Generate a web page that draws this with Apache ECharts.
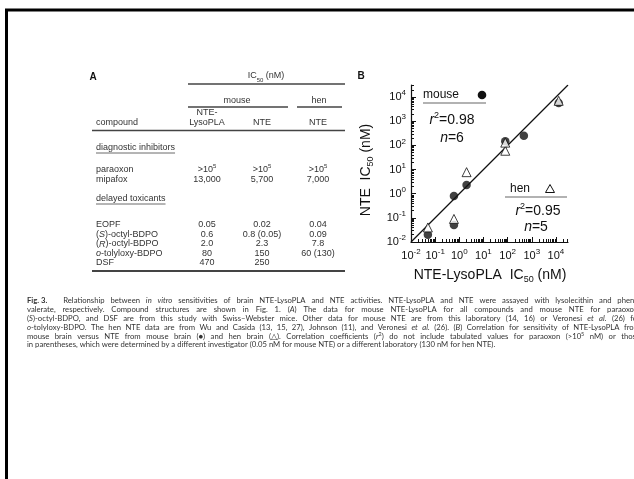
<!DOCTYPE html>
<html><head><meta charset="utf-8">
<script src="https://cdn.jsdelivr.net/npm/echarts@6/dist/echarts.min.js"></script>
<style>html,body{margin:0;padding:0;background:#fff}#c{width:634px;height:479px}</style>
</head><body><div id="c"></div>
<script>
// ---------- Panel A table ----------
const diagCompounds = ['paraoxon', 'mipafox'];
const diagLyso = ['>10^5', '13,000'];
const diagMouseNTE = ['>10^5', '5,700'];
const diagHenNTE = ['>10^5', '7,000'];
const toxCompounds = ['EOPF', '(S)-octyl-BDPO', '(R)-octyl-BDPO', 'o-tolyloxy-BDPO', 'DSF'];
const toxLyso = ['0.05', '0.6', '2.0', '80', '470'];
const toxMouseNTE = ['0.02', '0.8 (0.05)', '2.3', '150', '250'];
const toxHenNTE = ['0.04', '0.09', '7.8', '60 (130)', ''];

// ---------- Panel B scatter (nM) ----------
const mouseLyso = [0.05, 0.6, 0.6, 2.0, 80, 470, 13000];
const mouseNTE  = [0.02, 0.8, 0.05, 2.3, 150, 250, 5700];
const henLyso = [0.05, 0.6, 2.0, 80, 80, 13000];
const henNTE  = [0.04, 0.09, 7.8, 60, 130, 7000];
const fitX = [0.01, 31623];
const fitY = [0.01, 31623];
const tickExponents = [-2, -1, 0, 1, 2, 3, 4];

// ---------- Caption ----------
const captionLines = [
  '{b|Fig. 3.} Relationship between {i|in} {i|vitro} sensitivities of brain NTE-LysoPLA and NTE activities. NTE-LysoPLA and NTE were assayed with lysolecithin and phenyl',
  'valerate, respectively. Compound structures are shown in Fig. 1. ({i|A}) The data for mouse NTE-LysoPLA for all compounds and mouse NTE for paraoxon,',
  '({i|S})-octyl-BDPO, and DSF are from this study with Swiss\u2013Webster mice. Other data for mouse NTE are from this laboratory (14, 16) or Veronesi {i|et} {i|al.} (26) for',
  '{i|o}-tolyloxy-BDPO. The hen NTE data are from Wu and Casida (13, 15, 27), Johnson (11), and Veronesi {i|et} {i|al.} (26). ({i|B}) Correlation for sensitivity of NTE-LysoPLA from',
  'mouse brain versus NTE from mouse brain (\u25CF) and hen brain (\u25B3). Correlation coefficients ({i|r}{sp|2}) do not include tabulated values for paraoxon (>10{sp|5} nM) or those',
  'in parentheses, which were determined by a different investigator (0.05 nM for mouse NTE) or a different laboratory (130 nM for hen NTE).'
];

const L = v => Math.log10(v);
const minorTicks = [];
tickExponents.forEach(d => { for (let k = 2; k <= 9; k++) { const v = d + Math.log10(k); if (v < 4.5) minorTicks.push(v); } });

const SANS = 'Liberation Sans, Arial, sans-serif';
const INK = '#111';
const ctx = document.createElement('canvas').getContext('2d');
function tw(t, font) { ctx.font = font; return ctx.measureText(t).width; }

const g = [];
// page border
g.push({type: 'polyline', shape: {points: [[6.5, 479], [6.5, 10], [634, 10]]}, style: {stroke: '#000', lineWidth: 3, fill: null}});

// table
const TF = 9;
const tRich = {
  sp: {fontSize: 6, fontFamily: SANS, fill: '#333', lineHeight: 8, verticalAlign: 'top'},
  it: {fontSize: TF, fontFamily: SANS, fontStyle: 'italic', fill: '#333', lineHeight: 14},
  sub: {fontSize: 6, fontFamily: SANS, fill: '#333', lineHeight: 6, verticalAlign: 'bottom'}
};
function ttext(t, x, y, align) {
  g.push({type: 'text', x: x, y: y, style: {text: t, fontSize: TF, fontFamily: SANS, fill: '#333', lineHeight: 14, align: align || 'left', verticalAlign: 'middle', rich: tRich}});
}
function hline(x1, x2, y, w, c) { g.push({type: 'line', shape: {x1: x1, y1: y, x2: x2, y2: y}, style: {stroke: c || '#444', lineWidth: w}}); }
const fmtVal = s => s.replace(/\^(\d+)/g, '{sp|$1}');
const fmtName = s => s.replace(/^\(([SR])\)/, '({it|$1})').replace(/^o-/, '{it|o}-');
const colX = [207, 262, 318];
const nameX = 96;

g.push({type: 'text', x: 93, y: 77, style: {text: 'A', fontSize: 10, fontWeight: 'bold', fontFamily: SANS, fill: INK, align: 'center', verticalAlign: 'middle'}});
ttext('IC{sub|50} (nM)', 266, 76, 'center');
hline(188, 345, 84, 1.5);
ttext('mouse', 237, 101, 'center');
hline(188, 288, 107, 1.5);
ttext('hen', 319, 101, 'center');
hline(297, 342, 107, 1.5);
ttext('NTE-', colX[0], 113, 'center');
ttext('LysoPLA', colX[0], 123, 'center');
ttext('NTE', colX[1], 123, 'center');
ttext('NTE', colX[2], 123, 'center');
ttext('compound', nameX, 123, 'left');
hline(92, 345, 130.5, 1.5);

const fnt = TF + 'px ' + SANS;
ttext('diagnostic inhibitors', nameX, 148, 'left');
hline(nameX, nameX + tw('diagnostic inhibitors', fnt), 153, 0.8);
diagCompounds.forEach((c, i) => {
  const y = 170 + i * 10;
  ttext(fmtName(c), nameX, y, 'left');
  ttext(fmtVal(diagLyso[i]), colX[0], y, 'center');
  ttext(fmtVal(diagMouseNTE[i]), colX[1], y, 'center');
  ttext(fmtVal(diagHenNTE[i]), colX[2], y, 'center');
});
ttext('delayed toxicants', nameX, 199, 'left');
hline(nameX, nameX + tw('delayed toxicants', fnt), 204, 0.8);
toxCompounds.forEach((c, i) => {
  const y = 225 + i * 9.5;
  ttext(fmtName(c), nameX, y, 'left');
  ttext(fmtVal(toxLyso[i]), colX[0], y, 'center');
  ttext(fmtVal(toxMouseNTE[i]), colX[1], y, 'center');
  if (toxHenNTE[i]) ttext(fmtVal(toxHenNTE[i]), colX[2], y, 'center');
});
hline(92, 345, 271, 2);

// panel B annotations
g.push({type: 'text', x: 361, y: 76, style: {text: 'B', fontSize: 10, fontWeight: 'bold', fontFamily: SANS, fill: INK, align: 'center', verticalAlign: 'middle'}});
const bigRich = {
  i: {fontSize: 14, fontFamily: SANS, fontStyle: 'italic', fill: INK, lineHeight: 18},
  t: {fontSize: 14, fontFamily: SANS, fill: INK, lineHeight: 18},
  sp: {fontSize: 9, fontFamily: SANS, fill: INK, lineHeight: 9, verticalAlign: 'top'},
  sub: {fontSize: 9, fontFamily: SANS, fill: INK, lineHeight: 9, verticalAlign: 'bottom'}
};
function btext(t, x, y, align, size, rot) {
  g.push({type: 'text', x: x, y: y, rotation: rot || 0, style: {text: t, fontSize: size || 14, fontFamily: SANS, fill: INK, lineHeight: 18, align: align, verticalAlign: 'middle', rich: bigRich}});
}
btext('mouse', 423, 95, 'left', 12);
g.push({type: 'circle', shape: {cx: 482, cy: 95, r: 4.3}, style: {fill: INK}});
hline(423, 486, 103, 1.2, '#666');
btext('{i|r}{sp|2}{t|=0.98}', 452, 120, 'center');
btext('{i|n}{t|=6}', 452, 138, 'center');
btext('hen', 510, 189, 'left', 12);
g.push({type: 'polygon', shape: {points: [[550, 184.5], [554.5, 192.5], [545.5, 192.5]]}, style: {fill: '#fff', stroke: INK, lineWidth: 1}});
hline(505, 567, 197, 1.2, '#666');
btext('{i|r}{sp|2}{t|=0.95}', 538, 211, 'center');
btext('{i|n}{t|=5}', 536, 227, 'center');
btext('{t|NTE-LysoPLA  IC}{sub|50}{t| (nM)}', 490, 275, 'center');
btext('{t|NTE  IC}{sub|50}{t| (nM)}', 366, 170, 'center', 14, Math.PI / 2);

// caption (justified lines)
const CF = 7.7, CFAM = 'Lato, sans-serif', CCOL = '#333';
const cRich = {
  i: {fontSize: CF, fontFamily: CFAM, fontStyle: 'italic', fill: CCOL, lineHeight: 10},
  b: {fontSize: CF, fontFamily: CFAM, fontWeight: 'bold', fill: CCOL, lineHeight: 10},
  sp: {fontSize: 5.5, fontFamily: CFAM, fill: CCOL, lineHeight: 5, verticalAlign: 'top'}
};
const cStyle = {fontSize: CF, fontFamily: CFAM, fill: CCOL, lineHeight: 10, align: 'left', verticalAlign: 'middle', rich: cRich};
function measureRich(t) { return new echarts.graphic.Text({style: Object.assign({}, cStyle, {text: t})}).getBoundingRect().width; }
const capLeft = 27, capRight = 640;
captionLines.forEach((line, li) => {
  const y = 301 + li * 8.8;
  const words = line.match(/(?:\{[^}]*\}|[^\s{])+/g);
  const widths = words.map(measureRich);
  const extra = li === 0 ? 10 : 0;
  const total = widths.reduce((a, b) => a + b, 0) + extra;
  const last = li === captionLines.length - 1;
  const space = measureRich('a a') - measureRich('aa');
  const gap = last ? space : (capRight - capLeft - total) / (words.length - 1);
  let x = capLeft;
  words.forEach((w, wi) => {
    g.push({type: 'text', x: x, y: y, style: Object.assign({}, cStyle, {text: w})});
    x += widths[wi] + gap + (wi === 0 ? extra : 0);
  });
});

// axes
const tickRich = {
  b: {fontSize: 11, fontFamily: SANS, color: INK, lineHeight: 16},
  s: {fontSize: 8, fontFamily: SANS, color: INK, lineHeight: 8, verticalAlign: 'top'}
};
const tickFmt = v => '{b|10}{s|' + (v < 0 ? '-' + (-v) : v) + '}';
const axBase = {type: 'value', min: -2, max: 4.5, interval: 1, splitLine: {show: false}};
const lineSt = {color: INK, width: 1.2};
const gridBox = {left: 411, top: 85, width: 157, height: 157};

const option = {
  animation: false,
  grid: [Object.assign({}, gridBox), Object.assign({}, gridBox)],
  graphic: g,
  xAxis: [
    Object.assign({}, axBase, {gridIndex: 0, position: 'bottom', axisLine: {show: true, onZero: false, lineStyle: lineSt},
      axisTick: {show: true, inside: true, length: 5, customValues: tickExponents, lineStyle: {color: INK, width: 1}},
      axisLabel: {show: true, customValues: tickExponents, margin: 6, formatter: tickFmt, rich: tickRich}}),
    Object.assign({}, axBase, {gridIndex: 1, position: 'bottom', axisLine: {show: false, onZero: false},
      axisTick: {show: true, inside: true, length: 3, customValues: minorTicks, lineStyle: {color: INK, width: 1}},
      axisLabel: {show: false}})
  ],
  yAxis: [
    Object.assign({}, axBase, {gridIndex: 0, position: 'left', axisLine: {show: true, onZero: false, lineStyle: lineSt},
      axisTick: {show: true, inside: true, length: 5, customValues: tickExponents, lineStyle: {color: INK, width: 1}},
      axisLabel: {show: true, customValues: tickExponents, margin: 5, formatter: tickFmt, rich: tickRich}}),
    Object.assign({}, axBase, {gridIndex: 1, position: 'left', axisLine: {show: false, onZero: false},
      axisTick: {show: true, inside: true, length: 3, customValues: minorTicks, lineStyle: {color: INK, width: 1}},
      axisLabel: {show: false}})
  ],
  series: [
    {type: 'line', data: fitX.map((x, i) => [L(x), L(fitY[i])]), symbol: 'none', lineStyle: {color: INK, width: 1.2}, z: 2},
    {name: 'mouse', type: 'scatter', data: mouseLyso.map((x, i) => [L(x), L(mouseNTE[i])]), symbol: 'circle', symbolSize: 8.5, itemStyle: {color: INK}, z: 3},
    {name: 'hen', type: 'scatter', data: henLyso.map((x, i) => [L(x), L(henNTE[i])]), symbol: 'triangle', symbolSize: 9, itemStyle: {color: '#fff', borderColor: INK, borderWidth: 1}, z: 4}
  ]
};
const chart = echarts.init(document.getElementById('c'));
chart.setOption(option);
</script>
</body></html>
